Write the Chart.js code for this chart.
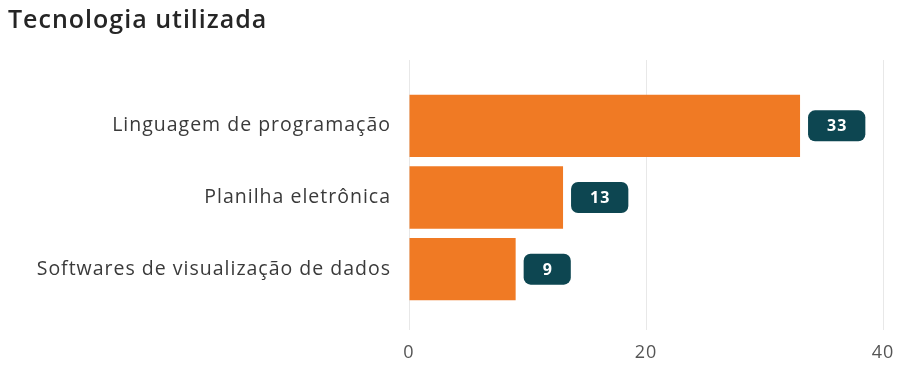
<!DOCTYPE html>
<html>
<head>
<meta charset="utf-8">
<script src="https://cdn.jsdelivr.net/npm/chart.js@4/dist/chart.umd.min.js"></script>
<style>
html,body{margin:0;padding:0;background:#fff;overflow:hidden;}
#wrap{width:898px;height:365px;position:relative;}
</style>
</head>
<body>
<div id="wrap"><canvas id="c"></canvas></div>
<script>
const chartTitle = "Tecnologia utilizada";
const categories = ["Linguagem de programação", "Planilha eletrônica", "Softwares de visualização de dados"];
const values = [33, 13, 9];
const xTicks = [0, 20, 40];

const FONT = "'Open Sans', 'Noto Sans', sans-serif";

const spacingPlugin = {
  id: 'spacing',
  beforeDraw(chart) { chart.ctx.letterSpacing = '1px'; }
};

const gridPlugin = {
  id: 'gridExt',
  beforeDatasetsDraw(chart) {
    const ctx = chart.ctx, xs = chart.scales.x;
    ctx.save();
    ctx.strokeStyle = '#e8e8e8';
    ctx.lineWidth = 1;
    xTicks.forEach(v => {
      const px = Math.round(xs.getPixelForValue(v)) + 0.5;
      ctx.beginPath();
      ctx.moveTo(px, chart.chartArea.top - 30);
      ctx.lineTo(px, chart.chartArea.bottom + 25);
      ctx.stroke();
    });
    ctx.restore();
  }
};

const labelPlugin = {
  id: 'valueBoxes',
  afterDatasetsDraw(chart) {
    const ctx = chart.ctx;
    const meta = chart.getDatasetMeta(0);
    ctx.save();
    ctx.font = "bold 16px " + FONT;
    ctx.textAlign = 'center';
    ctx.textBaseline = 'middle';
    meta.data.forEach((bar, i) => {
      const txt = String(values[i]);
      const tw = ctx.measureText(txt).width;
      const w = tw + 37, h = 31;
      const x0 = bar.x + 8, y0 = bar.y - h / 2;
      ctx.fillStyle = '#0d4651';
      ctx.beginPath();
      ctx.roundRect(x0, y0, w, h, 7);
      ctx.fill();
      ctx.fillStyle = '#ffffff';
      ctx.fillText(txt, x0 + w / 2 + 0.5, bar.y + 1);
    });
    ctx.restore();
  }
};

new Chart(document.getElementById('c'), {
  type: 'bar',
  data: {
    labels: categories,
    datasets: [{
      data: values,
      backgroundColor: '#f07a24',
      borderWidth: 0,
      categoryPercentage: 1,
      barPercentage: 0.87
    }]
  },
  options: {
    indexAxis: 'y',
    responsive: true,
    maintainAspectRatio: false,
    animation: false,
    layout: { padding: { left: 8, right: 15, top: 0, bottom: 0 } },
    plugins: {
      legend: { display: false },
      tooltip: { enabled: false },
      title: {
        display: true,
        text: chartTitle,
        align: 'start',
        color: '#252525',
        font: { family: FONT, size: 25, weight: '600', lineHeight: 1.2 },
        padding: { top: 6, bottom: 54 }
      }
    },
    scales: {
      x: {
        min: 0, max: 40,
        afterBuildTicks(scale) { scale.ticks = xTicks.map(v => ({ value: v })); },
        afterFit(scale) { scale.height = 60; },
        grid: { display: true, drawOnChartArea: false, drawTicks: true, tickLength: 36, color: 'rgba(0,0,0,0)' },
        border: { display: false },
        ticks: { color: '#555', font: { family: FONT, size: 18 }, padding: 1 }
      },
      y: {
        afterFit(scale) { scale.width = 401; },
        grid: { display: false },
        border: { display: false },
        ticks: { color: '#3a3a3a', font: { family: FONT, size: 19.5 }, padding: 10 }
      }
    }
  },
  plugins: [spacingPlugin, gridPlugin, labelPlugin]
});
</script>
</body>
</html>
